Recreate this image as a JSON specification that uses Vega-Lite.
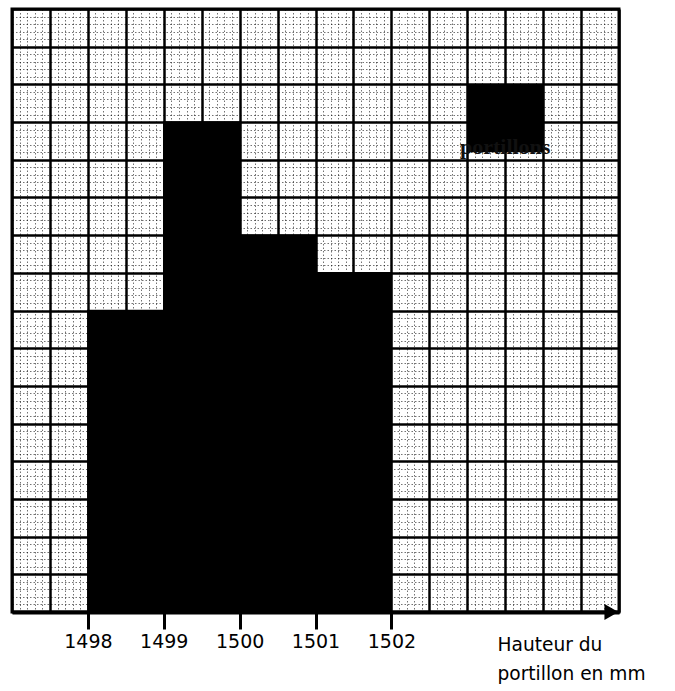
{
  "$schema": "https://vega.github.io/schema/vega-lite/v6.json",
  "width": 607,
  "height": 603,
  "autosize": "none",
  "padding": {"left": 12, "top": 9, "right": 56, "bottom": 79},
  "background": "#ffffff",
  "config": {"view": {"stroke": "#000000", "strokeWidth": 3}},
  "datasets": {
    "bars": [
      {"lo": 1498, "hi": 1499, "n": 8},
      {"lo": 1499, "hi": 1500, "n": 13},
      {"lo": 1500, "hi": 1501, "n": 10},
      {"lo": 1501, "hi": 1502, "n": 9}
    ],
    "legend": [
      {"lo": 1503, "hi": 1504, "top": 14, "bottom": 12.2, "label": "portillons", "tx": 1503.5, "ty": 12.15}
    ],
    "arrow": [{"x": 1504.9, "y": 0}]
  },
  "layer": [
    {
      "data": {"name": "bars"},
      "mark": {"type": "rect", "fill": "#000000", "stroke": "#000000", "strokeWidth": 1.5},
      "encoding": {
        "x": {
          "field": "lo", "type": "quantitative",
          "scale": {"domain": [1497, 1505], "nice": false, "zero": false},
          "axis": {
            "values": [1497,1497.1,1497.2,1497.3,1497.4,1497.5,1497.6,1497.7,1497.8,1497.9,1498,1498.1,1498.2,1498.3,1498.4,1498.5,1498.6,1498.7,1498.8,1498.9,1499,1499.1,1499.2,1499.3,1499.4,1499.5,1499.6,1499.7,1499.8,1499.9,1500,1500.1,1500.2,1500.3,1500.4,1500.5,1500.6,1500.7,1500.8,1500.9,1501,1501.1,1501.2,1501.3,1501.4,1501.5,1501.6,1501.7,1501.8,1501.9,1502,1502.1,1502.2,1502.3,1502.4,1502.5,1502.6,1502.7,1502.8,1502.9,1503,1503.1,1503.2,1503.3,1503.4,1503.5,1503.6,1503.7,1503.8,1503.9,1504,1504.1,1504.2,1504.3,1504.4,1504.5,1504.6,1504.7,1504.8,1504.9,1505],
            "tickCount": 500,
            "grid": true,
            "gridColor": "#000000",
            "gridWidth": {"condition": {"test": "abs(datum.value*2-round(datum.value*2))<0.01", "value": 2.5}, "value": 1},
            "gridDash": {"condition": {"test": "abs(datum.value*2-round(datum.value*2))<0.01", "value": []}, "value": [1.5, 2]},
            "gridOpacity": {"condition": {"test": "abs(datum.value*2-round(datum.value*2))<0.01", "value": 1}, "value": 0.55},
            "ticks": true,
            "tickSize": 17,
            "tickWidth": 3,
            "tickColor": "#000000",
            "tickOpacity": {"condition": {"test": "indexof([1498,1499,1500,1501,1502], datum.value) >= 0", "value": 1}, "value": 0},
            "labelExpr": "indexof([1498,1499,1500,1501,1502], datum.value) >= 0 ? format(datum.value, 'd') : ''",
            "labelFont": "DejaVu Sans",
            "labelFontSize": 19,
            "labelColor": "#000000",
            "labelPadding": 3,
            "labelOverlap": false,
            "labelFlush": false,
            "labelBound": false,
            "domain": true,
            "domainColor": "#000000",
            "domainWidth": 4,
            "title": ["Hauteur du", "portillon en mm"],
            "titleFont": "DejaVu Sans",
            "titleFontSize": 18.6,
            "titleFontWeight": "normal",
            "titleColor": "#000000",
            "titleAlign": "left",
            "titleAnchor": "start",
            "titleBaseline": "top",
            "titleLineHeight": 29,
            "titleX": 485,
            "titleY": 23
          }
        },
        "x2": {"field": "hi"},
        "y": {
          "field": "n", "type": "quantitative",
          "scale": {"domain": [0, 16], "nice": false, "zero": true},
          "axis": {
            "values": [0,0.2,0.4,0.6,0.8,1,1.2,1.4,1.6,1.8,2,2.2,2.4,2.6,2.8,3,3.2,3.4,3.6,3.8,4,4.2,4.4,4.6,4.8,5,5.2,5.4,5.6,5.8,6,6.2,6.4,6.6,6.8,7,7.2,7.4,7.6,7.8,8,8.2,8.4,8.6,8.8,9,9.2,9.4,9.6,9.8,10,10.2,10.4,10.6,10.8,11,11.2,11.4,11.6,11.8,12,12.2,12.4,12.6,12.8,13,13.2,13.4,13.6,13.8,14,14.2,14.4,14.6,14.8,15,15.2,15.4,15.6,15.8,16],
            "tickCount": 500,
            "grid": true,
            "gridColor": "#000000",
            "gridWidth": {"condition": {"test": "abs(datum.value-round(datum.value))<0.01", "value": 2.5}, "value": 1},
            "gridDash": {"condition": {"test": "abs(datum.value-round(datum.value))<0.01", "value": []}, "value": [1.5, 2]},
            "gridOpacity": {"condition": {"test": "abs(datum.value-round(datum.value))<0.01", "value": 1}, "value": 0.55},
            "labels": false,
            "ticks": false,
            "domain": false,
            "title": null
          }
        },
        "y2": {"datum": 0}
      }
    },
    {
      "data": {"name": "legend"},
      "mark": {"type": "rect", "fill": "#000000"},
      "encoding": {
        "x": {"field": "lo", "type": "quantitative"},
        "x2": {"field": "hi"},
        "y": {"field": "top", "type": "quantitative"},
        "y2": {"field": "bottom"}
      }
    },
    {
      "data": {"name": "legend"},
      "mark": {"type": "text", "font": "Liberation Serif", "fontWeight": "bold", "fontSize": 22, "color": "#111111", "align": "center", "baseline": "alphabetic"},
      "encoding": {
        "x": {"field": "tx", "type": "quantitative"},
        "y": {"field": "ty", "type": "quantitative"},
        "text": {"field": "label"}
      }
    },
    {
      "data": {"name": "arrow"},
      "mark": {"type": "point", "shape": "triangle-right", "filled": true, "color": "#000000", "opacity": 1, "size": 260, "clip": false},
      "encoding": {
        "x": {"field": "x", "type": "quantitative"},
        "y": {"field": "y", "type": "quantitative"}
      }
    }
  ]
}
